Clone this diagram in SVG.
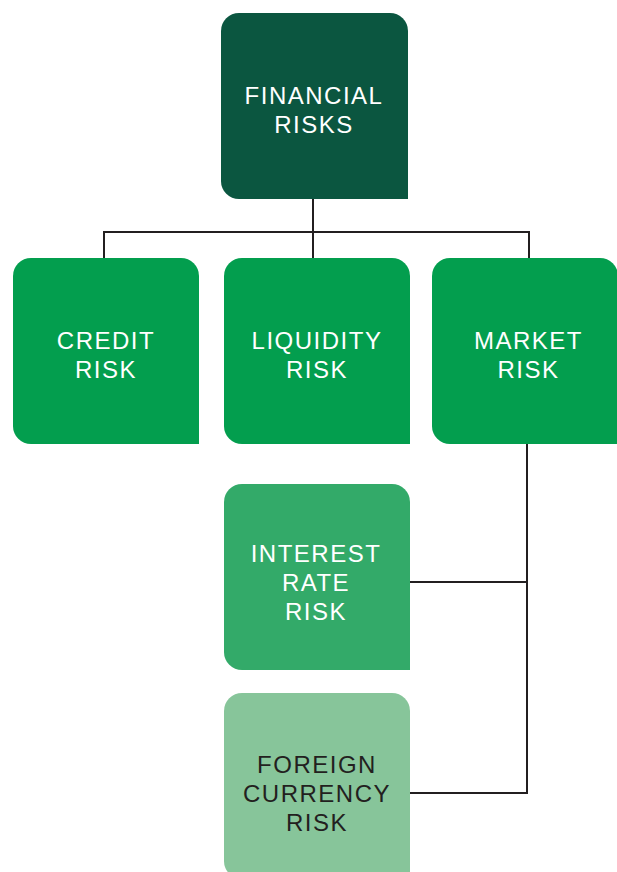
<svg xmlns="http://www.w3.org/2000/svg" width="617" height="872" viewBox="0 0 617 872">
<style>
.t{font-family:"Liberation Sans",Arial,sans-serif;font-size:24px;letter-spacing:1.5px;text-anchor:middle;fill:#ffffff}
.d{fill:#231f20}
.c{fill:none;stroke:#231f20;stroke-width:2}
</style>
<rect width="617" height="872" fill="#ffffff"/>
<g id="connectors">
<path class="c" d="M313 199V232M104 258V232H529V258M313 232V258"/>
<path class="c" d="M527 444V793H410M527 582H410"/>
</g>
<g id="financial">
<path d="M239 13H390A18 18 0 0 1 408 31V199H239A18 18 0 0 1 221 181V31A18 18 0 0 1 239 13Z" fill="#0b5640"/>
<text class="t" x="314" y="103.5">FINANCIAL</text>
<text class="t" x="314" y="132.5">RISKS</text>
</g>
<g id="credit">
<path d="M31 258H181A18 18 0 0 1 199 276V444H31A18 18 0 0 1 13 426V276A18 18 0 0 1 31 258Z" fill="#039e4e"/>
<text class="t" x="106" y="349">CREDIT</text>
<text class="t" x="106" y="378">RISK</text>
</g>
<g id="liquidity">
<path d="M242 258H392A18 18 0 0 1 410 276V444H242A18 18 0 0 1 224 426V276A18 18 0 0 1 242 258Z" fill="#039e4e"/>
<text class="t" x="317" y="349">LIQUIDITY</text>
<text class="t" x="317" y="378">RISK</text>
</g>
<g id="market">
<path d="M450 258H600A18 18 0 0 1 618 276V444H450A18 18 0 0 1 432 426V276A18 18 0 0 1 450 258Z" fill="#039e4e"/>
<text class="t" x="528.5" y="349">MARKET</text>
<text class="t" x="528.5" y="378">RISK</text>
</g>
<g id="interest">
<path d="M242 484H392A18 18 0 0 1 410 502V670H242A18 18 0 0 1 224 652V502A18 18 0 0 1 242 484Z" fill="#33aa69"/>
<text class="t" x="316" y="562">INTEREST</text>
<text class="t" x="316" y="591">RATE</text>
<text class="t" x="316" y="620">RISK</text>
</g>
<g id="foreign">
<path d="M242 693H392A18 18 0 0 1 410 711V879H242A18 18 0 0 1 224 861V711A18 18 0 0 1 242 693Z" fill="#87c59a"/>
<text class="t d" x="317" y="773">FOREIGN</text>
<text class="t d" x="317" y="802">CURRENCY</text>
<text class="t d" x="317" y="831">RISK</text>
</g>
</svg>
